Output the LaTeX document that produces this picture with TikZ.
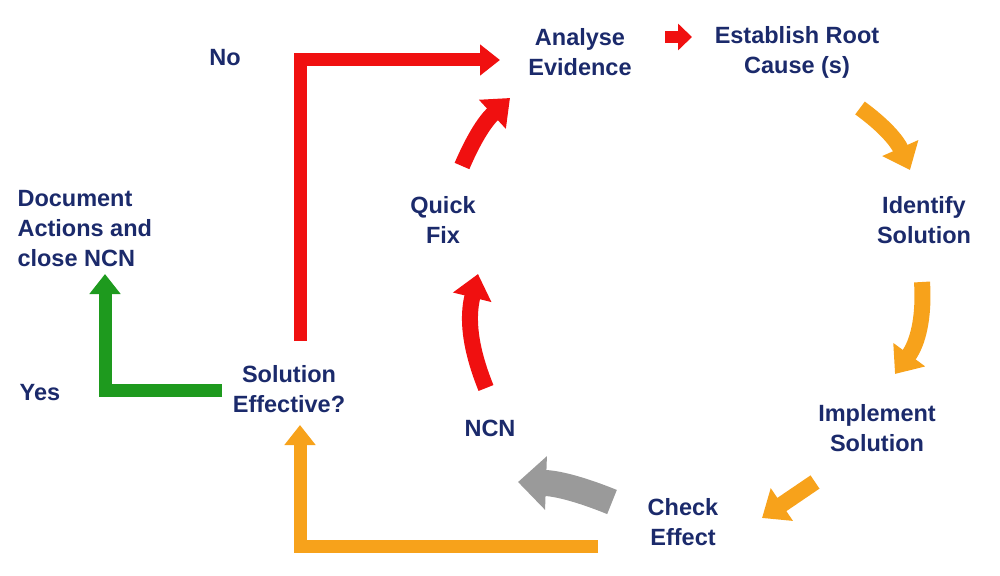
\documentclass[tikz,border=0pt]{standalone}
\usepackage{fontspec}
\setmainfont{Liberation Sans}
\usetikzlibrary{arrows.meta}
\definecolor{navy}{HTML}{1B2A6B}
\definecolor{fixred}{HTML}{F01010}
\definecolor{steporange}{HTML}{F7A21B}
\definecolor{okgreen}{HTML}{1E9A1E}
\definecolor{backgrey}{HTML}{9A9A9A}
\tikzset{
  label text/.style={text=navy,font=\fontsize{23.5}{30}\selectfont\bfseries,align=center},
  flow/.style={line width=13pt,line join=miter,-{Triangle[width=30pt,length=20pt]}},
  cycle step/.style={line width=16pt,-{Triangle[width=38pt,length=24pt]}}
}
\begin{document}
\begin{tikzpicture}[x=1pt,y=-1pt]
  \useasboundingbox (0,0) rectangle (1000,575);
  % texts
  \node[label text] (no) at (225,58) {No};
  \node[label text] (analyse) at (580,52) {Analyse\\Evidence};
  \node[label text] (root) at (797,52) {Establish Root\\Cause (s)};
  \node[label text,align=left,anchor=west] (doc) at (14,229) {Document\\Actions and\\close NCN};
  \node[label text] (quick) at (443,220) {Quick\\Fix};
  \node[label text] (identify) at (924,220) {Identify\\Solution};
  \node[label text] (yes) at (40,393) {Yes};
  \node[label text] (effective) at (289,389) {Solution\\Effective?};
  \node[label text] (ncn) at (490,428) {NCN};
  \node[label text] (implement) at (877,428) {Implement\\Solution};
  \node[label text] (check) at (683,522) {Check\\Effect};
  % coordinates for arrows
  \coordinate (c1) at (300,341);
  \coordinate (c2) at (300,60);
  \coordinate (c3) at (500,60);
  \coordinate (o1) at (598,546);
  \coordinate (o2) at (300,546);
  \coordinate (o3) at (300,425);
  \coordinate (g1) at (222,390);
  \coordinate (g2) at (105,390);
  \coordinate (g3) at (105,274);
  % L-shaped arrows
  \draw[flow,draw=fixred] (c1) -- (c2) -- (c3);
  \draw[flow,draw=steporange] (o1) -- (o2) -- (o3);
  \draw[flow,draw=okgreen] (g1) -- (g2) -- (g3);
  % cycle arrows
  \draw[line width=12pt,-{Triangle[width=26pt,length=14pt]},draw=fixred] (665,37) -- (692,37);
  \draw[cycle step,draw=steporange] (860,108) to[bend left=15] (910,170);
  \draw[cycle step,draw=steporange] (922,282) to[bend left=20] (895,374);
  \draw[cycle step,draw=steporange] (815,482) -- (762,518);
  \draw[line width=26pt,-{Triangle[width=52pt,length=28pt]},draw=backgrey] (612,502) to[bend right=10] (518,482);
  \draw[cycle step,draw=fixred] (486,388) to[bend left=18] (478,274);
  \draw[cycle step,draw=fixred] (462,166) to[bend left=12] (510,98);
\end{tikzpicture}
\end{document}
